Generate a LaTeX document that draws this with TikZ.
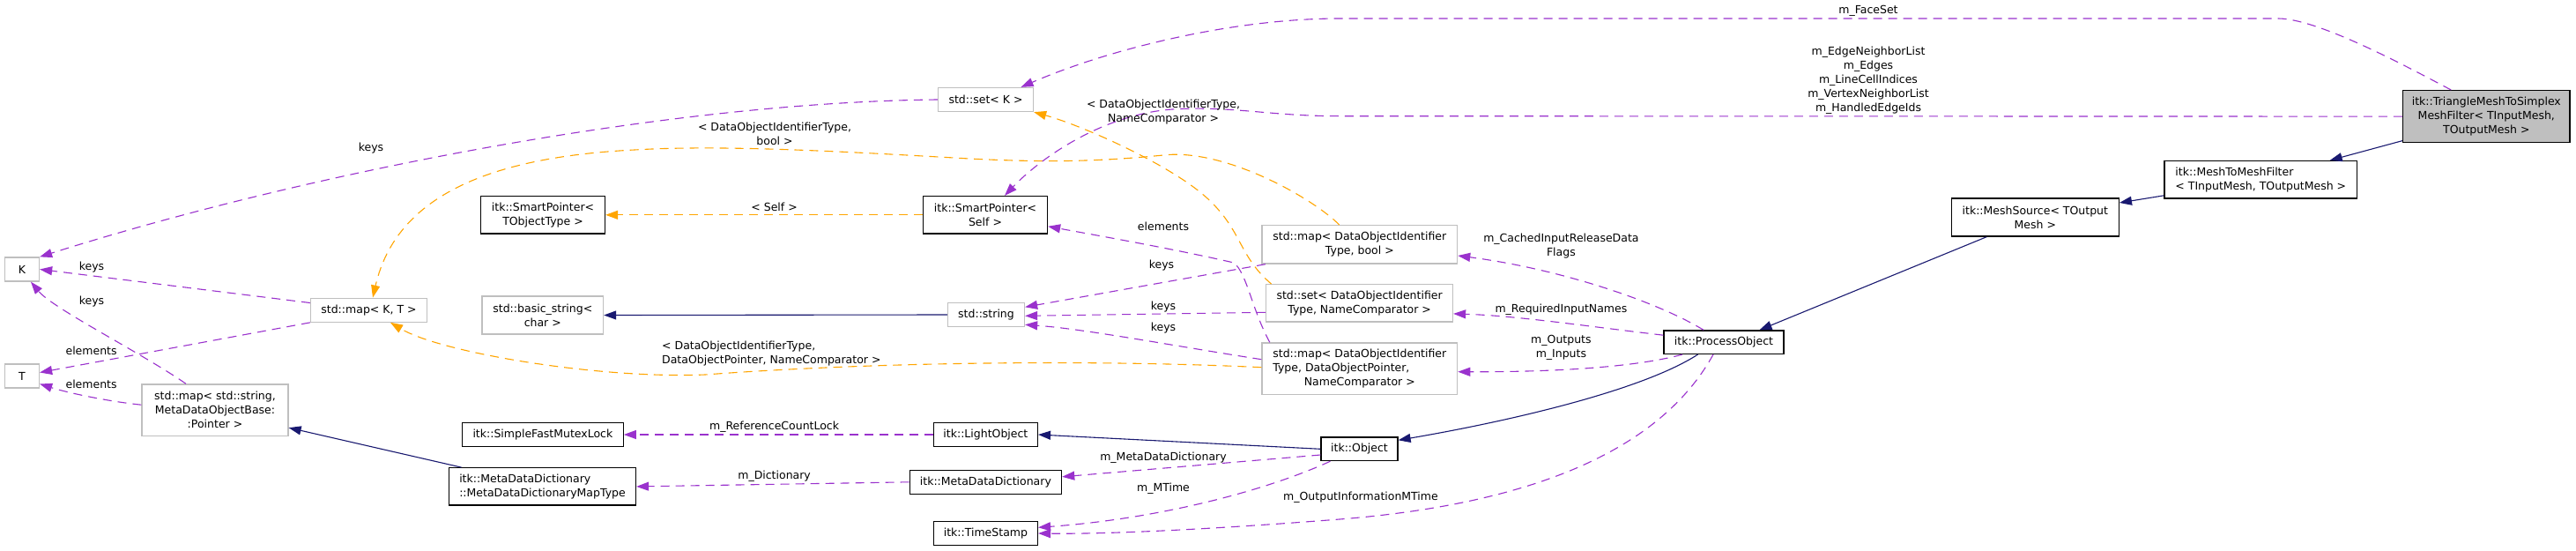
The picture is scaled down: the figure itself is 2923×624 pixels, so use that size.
\documentclass[tikz,border=0pt]{standalone}
\usepackage{fontspec}
\setmainfont{DejaVu Sans}
\usetikzlibrary{arrows.meta}
\definecolor{purp}{HTML}{9A32CD}
\definecolor{orng}{HTML}{FFA500}
\definecolor{navy}{HTML}{191970}
\definecolor{grayb}{HTML}{BFBFBF}
\newcommand\dxfont{\fontsize{12.5}{16}\selectfont}
\begin{document}
\begin{tikzpicture}[x=1pt,y=-1pt,
 box/.style={draw=black,line width=1.3pt,fill=white,inner sep=0pt,align=center,font=\dxfont},
 gbox/.style={box,draw=grayb},
 lbl/.style={inner sep=0pt,align=center,font=\dxfont},
 arrtip/.style={-{Triangle[length=14pt,width=10pt]}},
 dep/.style={arrtip,draw=purp,line width=1.1pt,dash pattern=on 10pt off 7pt},
 tpl/.style={arrtip,draw=orng,line width=1.1pt,dash pattern=on 10pt off 7pt},
 inh/.style={arrtip,draw=navy,line width=1.1pt},
]
\useasboundingbox (0,0) rectangle (2923,624);
\fill[white] (0,0) rectangle (2923,624);

% nodes
\node[gbox,minimum width=39pt,minimum height=27pt] (K) at (25,305.5) {K};
\node[gbox,minimum width=39pt,minimum height=27pt] (T) at (25,426.5) {T};
\node[gbox,minimum width=108pt,minimum height=27pt] (setK) at (1118.5,113) {std::set< K >};
\node[gbox,minimum width=132pt,minimum height=27pt] (mapKT) at (418.5,351.7) {std::map< K, T >};
\node[gbox,minimum width=166pt,minimum height=58.5pt] (mapStr) at (244,465.2) {std::map< std::string,\\MetaDataObjectBase:\\:Pointer >};
\node[box,minimum width=141pt,minimum height=42.5pt] (spT) at (616,243.8) {itk::SmartPointer<\\TObjectType >};
\node[box,minimum width=141pt,minimum height=42.5pt] (spSelf) at (1118,243.8) {itk::SmartPointer<\\Self >};
\node[gbox,minimum width=137.5pt,minimum height=43pt] (basicStr) at (615.8,357.5) {std::basic\_string<\\char >};
\node[gbox,minimum width=87pt,minimum height=26.5pt] (str) at (1119,357) {std::string};
\node[gbox,minimum width=221.6pt,minimum height=43.3pt] (mapDOIbool) at (1542.8,277.4) {std::map< DataObjectIdentifier\\Type, bool >};
\node[gbox,minimum width=211.8pt,minimum height=42.3pt] (setDOI) at (1542.6,343.9) {std::set< DataObjectIdentifier\\Type, NameComparator >};
\node[gbox,minimum width=221.6pt,minimum height=58.7pt] (mapDOP) at (1542.8,418.3) {\begin{tabular}{@{}l@{}}std::map< DataObjectIdentifier\\Type, DataObjectPointer,\\\multicolumn{1}{@{}c@{}}{NameComparator >}\end{tabular}};
\node[box,minimum width=182.6pt,minimum height=27.4pt] (mutex) at (615.9,493) {itk::SimpleFastMutexLock};
\node[box,minimum width=118pt,minimum height=27.4pt] (light) at (1118.4,493) {itk::LightObject};
\node[box,align=left,minimum width=212pt,minimum height=42.3pt] (mdmap) at (615.5,551.9) {itk::MetaDataDictionary\\::MetaDataDictionaryMapType};
\node[box,minimum width=172.4pt,minimum height=26.7pt] (mdd) at (1118.4,546.8) {itk::MetaDataDictionary};
\node[box,minimum width=118pt,minimum height=27pt] (ts) at (1118.4,605) {itk::TimeStamp};
\node[box,minimum width=87pt,minimum height=26.5pt] (obj) at (1542.5,509.3) {itk::Object};
\node[box,minimum width=136pt,minimum height=26.5pt] (po) at (1956,388.2) {itk::ProcessObject};
\node[box,minimum width=190pt,minimum height=43pt] (ms) at (2309.3,246.5) {itk::MeshSource< TOutput\\Mesh >};
\node[box,align=left,minimum width=218.6pt,minimum height=42.5pt] (m2m) at (2565.3,203.8) {itk::MeshToMeshFilter\\< TInputMesh, TOutputMesh >};
\node[box,fill=grayb,minimum width=189.4pt,minimum height=58.8pt] (tri) at (2821.3,132.1) {itk::TriangleMeshToSimplex\\MeshFilter< TInputMesh,\\TOutputMesh >};

% edges
\draw[dep] (setK.west) .. controls (760,116) and (350,195) .. (K.north east);
\draw[dep] (mapKT.173) -- (K.east);
\draw[dep] ([xshift=-33pt]mapStr.north) .. controls (160,400) and (60,350) .. ([xshift=10pt]K.south);
\draw[dep] (mapKT.south west) -- ([yshift=4pt]T.east);
\draw[dep] ([yshift=6pt]mapStr.west) .. controls (120,455) and (75,445) .. ([yshift=-9pt]T.east);
\draw[inh] ([xshift=-92pt]mdmap.north) -- ([yshift=-20pt]mapStr.east);
\draw[tpl] ([xshift=-23pt]mapDOIbool.north) .. controls (1490,225) and (1390,168) .. (1320,176) .. controls (1240,184) and (1180,184) .. (1100,180) .. controls (960,172) and (820,164) .. (720,170) .. controls (560,178) and (450,220) .. ([xshift=4.5pt]mapKT.north);
\draw[tpl] ([xshift=-100pt]setDOI.north) .. controls (1405,290) and (1410,262) .. (1370,225) .. controls (1330,188) and (1230,143) .. (setK.south east);
\draw[dep] ([xshift=-40pt]tri.north) .. controls (2730,75) and (2630,21) .. (2585,21) -- (1520,21) .. controls (1400,21) and (1260,55) .. ([xshift=40pt]setK.north);
\draw[dep] (tri.west) -- (1520,131.7) .. controls (1440,131.7) and (1400,120) .. (1330,124) .. controls (1250,130) and (1180,180) .. ([xshift=22pt]spSelf.north);
\draw[dep] ([xshift=-23pt]po.north) .. controls (1880,342) and (1770,305) .. ([yshift=-12.6pt]mapDOIbool.east);
\draw[dep] ([yshift=8pt]po.west) .. controls (1800,370) and (1720,358) .. ([yshift=-12pt]setDOI.east);
\draw[dep] ([xshift=-47pt]po.south) .. controls (1850,418) and (1750,422) .. ([yshift=-3.4pt]mapDOP.east);
\draw[inh] ([xshift=-29.5pt]po.south) .. controls (1860,445) and (1700,480) .. ([yshift=10pt]obj.east);
\draw[dep] ([xshift=-12pt]po.south) .. controls (1890,500) and (1760,570) .. (1520,589) .. controls (1380,600) and (1260,606) .. (ts.east);
\draw[inh] ([xshift=-55pt]ms.south) -- ([xshift=40.5pt]po.north);
\draw[inh] ([yshift=-18pt]m2m.west) -- ([yshift=16.5pt]ms.east);
\draw[inh] ([yshift=2.5pt]tri.south west) -- ([xshift=78.4pt]m2m.north);
\draw[inh] (obj.west) -- (light.east);
\draw[dep] ([yshift=-6.7pt]obj.west) -- ([yshift=6pt]mdd.east);
\draw[dep] ([xshift=-33pt]obj.south) .. controls (1440,555) and (1320,588) .. ([yshift=6.7pt]ts.east);
\draw[dep] (light.west) -- (mutex.east);
\draw[dep] (mdd.west) -- (mdmap.east);
\draw[tpl] (spSelf.west) -- (spT.east);
\draw[inh] (str.west) -- (basicStr.east);
\draw[dep] ([xshift=4.5pt]mapDOIbool.south west) -- ([yshift=8.7pt]str.east);
\draw[dep] ([yshift=-10.4pt]setDOI.west) -- ([yshift=-1.3pt]str.east);
\draw[dep] ([yshift=10.6pt]mapDOP.west) .. controls (1330,392) and (1230,373) .. ([yshift=-11.3pt]str.east);
\draw[dep] ([xshift=-102pt]mapDOP.north) .. controls (1420,350) and (1415,310) .. (1400,298) .. controls (1330,282) and (1250,268) .. ([yshift=-13pt]spSelf.east);
\draw[tpl] ([yshift=1.6pt]mapDOP.west) .. controls (1250,408) and (1000,410) .. (800,425) .. controls (680,430) and (500,400) .. ([xshift=24.5pt]mapKT.south);

% labels
\node[lbl] (l1) at (421,168.3) {keys};
\node[lbl] (l2) at (104,303) {keys};
\node[lbl] (l3) at (104,342) {keys};
\node[lbl] (l4) at (103.6,398) {elements};
\node[lbl] (l5) at (103.6,435.7) {elements};
\node[lbl] (l6) at (879,151.7) {< DataObjectIdentifierType,\\bool >};
\node[lbl] (l7) at (1320,127.3) {< DataObjectIdentifierType,\\NameComparator >};
\node[lbl] (l8) at (2120,12.7) {m\_FaceSet};
\node[lbl] (l9) at (2120,91.7) {m\_EdgeNeighborList\\m\_Edges\\m\_LineCellIndices\\m\_VertexNeighborList\\m\_HandledEdgeIds};
\node[lbl] (l10) at (1771.4,279.5) {m\_CachedInputReleaseData\\Flags};
\node[lbl] (l11) at (1771.4,351.7) {m\_RequiredInputNames};
\node[lbl] (l12) at (1771.4,394.7) {m\_Outputs\\m\_Inputs};
\node[lbl] (l13) at (1544,564.5) {m\_OutputInformationMTime};
\node[lbl] (l14) at (1320,519) {m\_MetaDataDictionary};
\node[lbl] (l15) at (1320,554.7) {m\_MTime};
\node[lbl] (l16) at (878.6,484.3) {m\_ReferenceCountLock};
\node[lbl] (l17) at (878.6,540) {m\_Dictionary};
\node[lbl] (l18) at (878.6,235) {< Self >};
\node[lbl] (l19) at (1318,301) {keys};
\node[lbl] (l20) at (1320,347.7) {keys};
\node[lbl] (l21) at (1320,372.3) {keys};
\node[lbl] (l22) at (1320,256.7) {elements};
\node[lbl,align=left,anchor=west] (l23) at (751,401.2) {< DataObjectIdentifierType,\\DataObjectPointer, NameComparator >};
\end{tikzpicture}
\end{document}
